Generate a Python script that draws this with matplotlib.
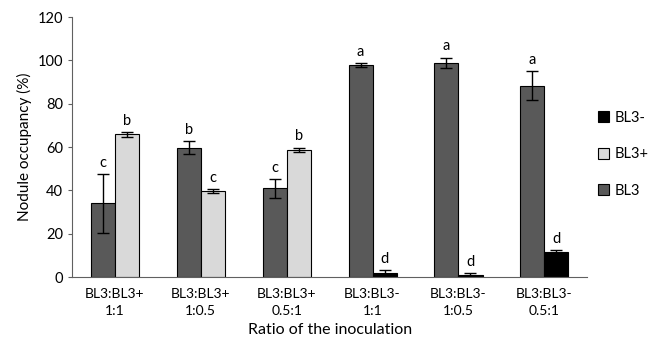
import numpy as np
import matplotlib.pyplot as plt

plt.rcParams['font.family'] = ['Lato', 'DejaVu Sans']

categories = ['BL3:BL3+\n1:1', 'BL3:BL3+\n1:0.5', 'BL3:BL3+\n0.5:1',
              'BL3:BL3-\n1:1', 'BL3:BL3-\n1:0.5', 'BL3:BL3-\n0.5:1']
bl3 = [34, 59.7, 40.9, 97.8, 98.9, 88.3]
bl3_err = [13.6, 3.1, 4.4, 1.0, 2.3, 6.8]
bl3_letters = ['c', 'b', 'c', 'a', 'a', 'a']

bl3_plus = [65.8, 39.8, 58.6]
bl3_plus_err = [1.1, 0.8, 1.1]
bl3_plus_letters = ['b', 'c', 'b']

bl3_minus = [2.0, 0.9, 11.4]
bl3_minus_err = [1.2, 0.9, 0.9]
bl3_minus_letters = ['d', 'd', 'd']

fig = plt.figure(figsize=(6.54, 3.48), dpi=100)
ax = fig.add_axes([0.110, 0.204, 0.788, 0.747])

x = np.arange(len(categories))
w = 0.28
ekw = dict(elinewidth=1, capthick=1, ecolor='black')

b1 = ax.bar(x - w / 2, bl3, w, yerr=bl3_err, capsize=4, color='#595959',
            edgecolor='black', linewidth=0.8, error_kw=ekw, label='BL3')
xp = x[:3] + w / 2
b2 = ax.bar(xp, bl3_plus, w, yerr=bl3_plus_err, capsize=4, color='#d9d9d9',
            edgecolor='black', linewidth=0.8, error_kw=ekw, label='BL3+')
xm = x[3:] + w / 2
b3 = ax.bar(xm, bl3_minus, w, yerr=bl3_minus_err, capsize=4, color='black',
            edgecolor='black', linewidth=0.8, error_kw=ekw, label='BL3-')

# significance letters above the error bars
for xi, v, e, t in zip(x - w / 2, bl3, bl3_err, bl3_letters):
    ax.text(xi, v + e + 2, t, ha='center', va='bottom', fontsize=10.5)
for xi, v, e, t in zip(xp, bl3_plus, bl3_plus_err, bl3_plus_letters):
    ax.text(xi, v + e + 2, t, ha='center', va='bottom', fontsize=10.5)
for xi, v, e, t in zip(xm, bl3_minus, bl3_minus_err, bl3_minus_letters):
    ax.text(xi, v + e + 2, t, ha='center', va='bottom', fontsize=10.5)

ax.set_xlim(-0.5, 5.5)
ax.set_ylim(0, 120)
ax.set_yticks(range(0, 121, 20))
ax.set_xticks(x)
ax.set_xticklabels(categories, fontsize=10, linespacing=1.5)
ax.tick_params(axis='x', length=0, pad=8)
ax.tick_params(axis='y', length=3, labelsize=10.5, color='#606060')
for s in ['top', 'right']:
    ax.spines[s].set_visible(False)
for s in ['left', 'bottom']:
    ax.spines[s].set_color('#606060')
ax.set_ylabel('Nodule occupancy (%)', fontsize=11)
ax.set_xlabel('Ratio of the inoculation', fontsize=11.5, labelpad=4)

fig.legend([b3, b2, b1], ['BL3-', 'BL3+', 'BL3'], loc='center left',
           bbox_to_anchor=(0.914, 0.557), frameon=False, fontsize=10.5,
           labelspacing=1.55, handlelength=0.8, handleheight=0.8,
           handletextpad=0.35, borderpad=0, borderaxespad=0)

fig.savefig('out.png', dpi=100)
